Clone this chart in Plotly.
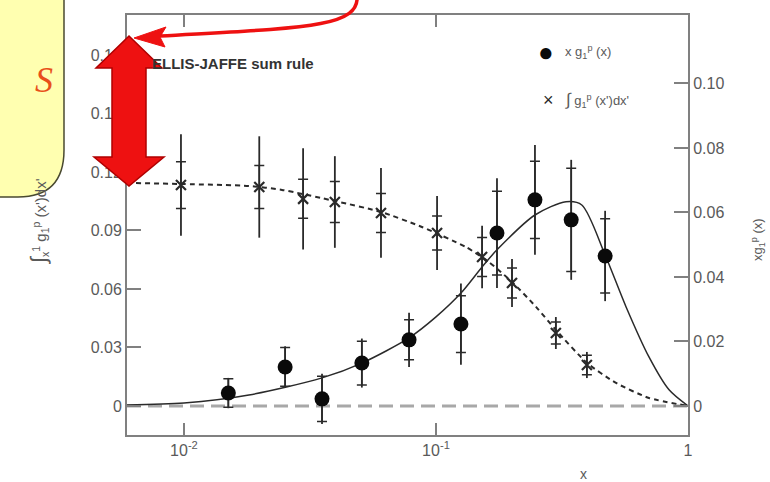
import plotly.graph_objects as go

# ---------------- data ----------------
# x*g1^p(x) data points (right axis)
x_g1 = [0.0150, 0.0252, 0.0353, 0.0508, 0.0782, 0.1256, 0.1746, 0.247, 0.344, 0.469]
g1_vals = [0.0040, 0.0121, 0.0022, 0.0133, 0.0205, 0.0254, 0.0536, 0.0639, 0.0577, 0.0465]
g1_tot = [0.0047, 0.0064, 0.0078, 0.0076, 0.0084, 0.0126, 0.0170, 0.0170, 0.0186, 0.0140]
g1_stat = [0.0044, 0.0060, 0.0070, 0.0068, 0.0062, 0.0088, 0.0130, 0.0120, 0.0160, 0.0115]

# integral of g1^p from x to 1 (left axis)
x_int = [0.00973, 0.0199, 0.0297, 0.0397, 0.0605, 0.101, 0.1524, 0.2003, 0.299, 0.397]
int_vals = [0.1133, 0.1123, 0.1062, 0.1046, 0.0990, 0.0887, 0.0764, 0.0631, 0.0374, 0.0210]
int_tot = [0.0260, 0.0260, 0.0260, 0.0235, 0.0230, 0.0190, 0.0160, 0.0123, 0.0082, 0.0067]
int_stat = [0.0120, 0.0110, 0.0100, 0.0105, 0.0100, 0.0087, 0.0100, 0.0077, 0.0056, 0.0050]

# fit curve for x*g1^p(x) (right axis)
fit_x = [0.00594, 0.01, 0.0181, 0.0353, 0.0508, 0.0782, 0.1, 0.1256, 0.1524, 0.1746,
         0.247, 0.328, 0.379, 0.469, 0.568, 0.700, 0.841, 1.0]
fit_y = [0.0003, 0.0009, 0.0034, 0.0087, 0.0133, 0.0211, 0.0276, 0.0350, 0.0431, 0.0484,
         0.0592, 0.0633, 0.0623, 0.0468, 0.0307, 0.0152, 0.0050, 0.0]

# integral curve (left axis)
int_cx = [0.00594, 0.01, 0.0181, 0.0245, 0.0397, 0.0605, 0.0879, 0.1315, 0.1622, 0.2003,
          0.2495, 0.299, 0.397, 0.518, 0.700, 1.0]
int_cy = [0.1144, 0.1138, 0.1128, 0.1108, 0.1051, 0.0995, 0.0918, 0.0815, 0.0738, 0.0636,
          0.0508, 0.0390, 0.0221, 0.0118, 0.0041, 0.0]

x_tickvals = [0.01, 0.1, 1]
x_ticktext = ["10<sup>-2</sup>", "10<sup>-1</sup>", "1"]
yl_tickvals = [0, 0.03, 0.06, 0.09, 0.12, 0.15, 0.18]
yl_ticktext = ["0", "0.03", "0.06", "0.09", "0.12", "0.15", "0.18"]
yr_tickvals = [0, 0.02, 0.04, 0.06, 0.08, 0.10]
yr_ticktext = ["0", "0.02", "0.04", "0.06", "0.08", "0.10"]

# ---------------- layout geometry ----------------
WIDTH, HEIGHT = 770, 482
L, R, T, B = 127, 688, 15, 435
PW, PH = R - L, B - T


def px(x):
    return (x - L) / PW


def py(y):
    return (B - y) / PH


def path(points, close=True):
    s = "M " + " L ".join(f"{px(a):.5f},{py(b):.5f}" for a, b in points)
    return s + (" Z" if close else "")


DARK = "#2a2a2a"
GREY = "#5a5a5a"
FRAME = "#808080"
FONT = "Liberation Sans, Arial, sans-serif"

fig = go.Figure()

# zero line (gray thick dashes)
fig.add_shape(type="line", xref="paper", yref="y", x0=0, x1=1, y0=0, y1=0,
              line=dict(color="#a8a8a8", width=3, dash="14px,7px"), layer="below")

# curves
fig.add_trace(go.Scatter(x=int_cx, y=int_cy, mode="lines", line=dict(color=DARK, width=2, dash="5px,4px", shape="spline", smoothing=0.6),
                         yaxis="y", showlegend=False, hoverinfo="skip"))
fig.add_trace(go.Scatter(x=fit_x, y=fit_y, mode="lines", line=dict(color=DARK, width=1.5, shape="spline", smoothing=0.8),
                         yaxis="y2", showlegend=False, hoverinfo="skip"))

# integral points: total error line + stat ticks
fig.add_trace(go.Scatter(x=x_int, y=int_vals, mode="markers", marker=dict(size=1, color="rgba(0,0,0,0)"),
                         error_y=dict(type="data", array=int_tot, width=0, thickness=1.8, color=DARK),
                         yaxis="y", showlegend=False, hoverinfo="skip"))
fig.add_trace(go.Scatter(x=x_int, y=int_vals, mode="markers",
                         marker=dict(symbol="x-thin", size=10, line=dict(width=2.2, color=DARK), color=DARK),
                         error_y=dict(type="data", array=int_stat, width=5, thickness=1.5, color=DARK),
                         yaxis="y", showlegend=False))

# g1 points
fig.add_trace(go.Scatter(x=x_g1, y=g1_vals, mode="markers", marker=dict(size=1, color="rgba(0,0,0,0)"),
                         error_y=dict(type="data", array=g1_tot, width=0, thickness=1.8, color=DARK),
                         yaxis="y2", showlegend=False, hoverinfo="skip"))
fig.add_trace(go.Scatter(x=x_g1, y=g1_vals, mode="markers",
                         marker=dict(symbol="circle", size=15, color="#0a0a0a"),
                         error_y=dict(type="data", array=g1_stat, width=5, thickness=1.5, color=DARK),
                         yaxis="y2", showlegend=False))

tickfont = dict(family=FONT, size=16, color=GREY)
fig.update_layout(
    width=WIDTH, height=HEIGHT,
    margin=dict(l=L, r=WIDTH - R, t=T, b=HEIGHT - B),
    paper_bgcolor="white", plot_bgcolor="white",
    showlegend=False,
    xaxis=dict(type="log", range=[-2.226, 0.0], tickvals=x_tickvals, ticktext=x_ticktext,
               ticks="inside", ticklen=12, tickwidth=2, tickcolor=FRAME,
               showline=True, linewidth=2, linecolor=FRAME, mirror="ticks",
               showgrid=False, zeroline=False, tickfont=tickfont),
    yaxis=dict(range=[-0.0149, 0.2005], tickvals=yl_tickvals, ticktext=yl_ticktext,
               ticks="inside", ticklen=14, tickwidth=2, tickcolor=FRAME,
               showline=True, linewidth=2, linecolor=FRAME,
               showgrid=False, zeroline=False, tickfont=tickfont),
    yaxis2=dict(range=[-0.0090, 0.1212], tickvals=yr_tickvals, ticktext=yr_ticktext,
                overlaying="y", side="right",
                ticks="inside", ticklen=14, tickwidth=2, tickcolor=FRAME,
                showline=True, linewidth=2, linecolor=FRAME,
                showgrid=False, zeroline=False, tickfont=tickfont),
)

# yellow box with S
box = [(-5, -5), (64, -5), (64, 150)]
box_path = "M " + " L ".join(f"{px(a):.5f},{py(b):.5f}" for a, b in box)
box_path += f" Q {px(64):.5f},{py(197):.5f} {px(18):.5f},{py(197):.5f} L {px(-5):.5f},{py(197):.5f} Z"
fig.add_shape(type="path", xref="paper", yref="paper", path=box_path,
              fillcolor="#ffffb0", line=dict(color="#4a4a30", width=1.5), layer="above")

# red double-headed arrow
arrow_pts = [(129, 36), (162, 68), (146, 68), (146, 157), (164, 157), (129, 186),
             (94, 157), (112, 157), (112, 68), (96, 68)]
fig.add_shape(type="path", xref="paper", yref="paper", path=path(arrow_pts),
              fillcolor="#ee1111", line=dict(color="#b00000", width=1.5), layer="above")

# curved red arrow from the top
curve = (f"M {px(357):.5f},{py(-4):.5f} C {px(360):.5f},{py(28):.5f} "
         f"{px(300):.5f},{py(28):.5f} {px(160):.5f},{py(36):.5f}")
fig.add_shape(type="path", xref="paper", yref="paper", path=curve,
              line=dict(color="#ee1111", width=3.5), layer="above")
head = [(134, 38), (166, 27), (160, 37), (165, 47)]
fig.add_shape(type="path", xref="paper", yref="paper", path=path(head),
              fillcolor="#ee1111", line=dict(color="#ee1111", width=1), layer="above")


def ann(x, y, text, size=14, color=GREY, xanchor="center", textangle=0, family=FONT, **kw):
    fig.add_annotation(x=px(x), y=py(y), xref="paper", yref="paper", text=text, showarrow=False,
                       xanchor=xanchor, yanchor="middle", textangle=textangle,
                       font=dict(family=family, size=size, color=color), **kw)


ann(44, 80, "<i>S</i>", size=36, color="#e8501a", family="Liberation Serif, serif")
ann(150, 63, "<b>ELLIS-JAFFE sum rule</b>", size=15, color="#333333", xanchor="left")

# legend
ann(546, 52, "●", size=26, color="#0a0a0a")
ann(563, 52, "x g<sub>1</sub><sup>p</sup> (x)", size=13, color=GREY, xanchor="left")
ann(548, 100, "×", size=18, color=DARK)
ann(563, 100, "<span style='font-size:17px'>∫</span> g<sub>1</sub><sup>p</sup> (x')dx'", size=13, color=GREY, xanchor="left")

# axis titles
ann(38, 222, "<span style='font-size:22px'>∫</span><sub>x</sub><sup>1</sup> g<sub>1</sub><sup>p</sup> (x')dx'",
    size=15, color=GREY, textangle=-90)
ann(758, 240, "xg<sub>1</sub><sup>p</sup> (x)", size=13, color=GREY, textangle=-90)
ann(583, 474, "x", size=14, color=GREY)

fig.write_html("out.html", config={"displayModeBar": False},
               post_script="document.body.style.margin='0px';document.body.style.padding='0px';")
